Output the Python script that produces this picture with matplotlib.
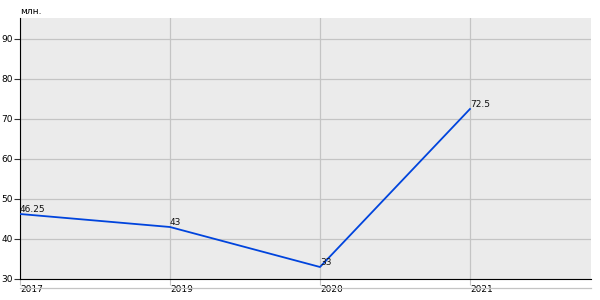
import matplotlib
matplotlib.use("Agg")
import matplotlib.pyplot as plt
from matplotlib.lines import Line2D

years = ["2017", "2019", "2020", "2021"]
values = [46.25, 43, 33, 72.5]
labels = ["46.25", "43", "33", "72.5"]
yticks = [30, 40, 50, 60, 70, 80, 90]

fig = plt.figure(figsize=(6, 3), dpi=100)
ax = fig.add_axes([20/600, 21/300, 571/600, 261/300])
ax.set_facecolor("#ebebeb")
x = list(range(len(years)))
ax.plot(x, values, color="#0044dd", lw=1.3, zorder=3)
for xi, v, t in zip(x, values, labels):
    ax.text(xi, v + 0.4, t, fontsize=6.5, ha="left", va="baseline", color="#111111", zorder=4)

ax.set_xlim(0, 3.807)
ax.set_ylim(30, 95.25)
ax.set_xticks(x)
ax.set_xticklabels(years, ha="left")
ax.set_yticks(yticks)
ax.grid(True, color="#c4c4c4", lw=0.9)
ax.set_axisbelow(True)
for s in ["top", "right"]:
    ax.spines[s].set_visible(False)
ax.spines["left"].set_color("black")
ax.spines["bottom"].set_color("black")
ax.tick_params(axis="both", labelsize=6.5, length=4, width=0.8, color="#333333", pad=1)
ax.tick_params(axis="x", length=4, color="#c4c4c4", pad=0)
fig.text(20/600, 1 - 12/300, "млн.", fontsize=6.5, ha="left", va="center")
fig.add_artist(Line2D([20/600, 591/600], [1 - 288/300, 1 - 288/300], color="#c4c4c4", lw=0.9, zorder=5))
fig.savefig("out.png", dpi=100, facecolor="white")
